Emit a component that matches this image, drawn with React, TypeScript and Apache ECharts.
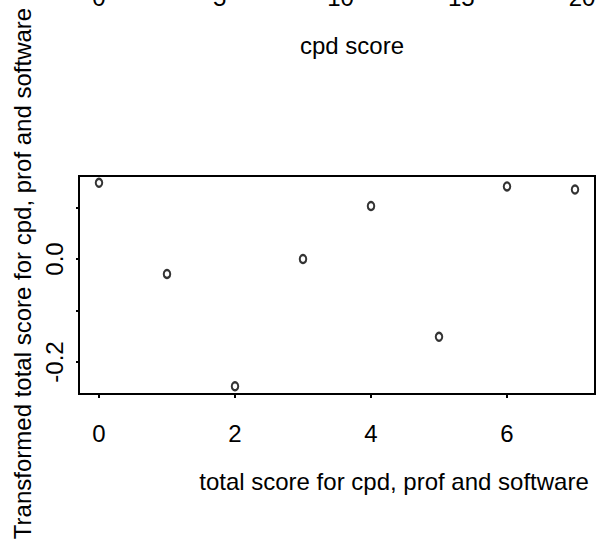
import React, { useEffect, useRef } from "react";
import * as echarts from "echarts";

// Data
const xValues = [0, 1, 2, 3, 4, 5, 6, 7];
const yValues = [0.148, -0.029, -0.247, 0.0, 0.103, -0.151, 0.141, 0.135];
const xTickLabels = [0, 2, 4, 6];
const yTicks = [-0.2, -0.1, 0, 0.1];
const yTickLabels = [-0.2, 0];
const topTickLabels = [0, 5, 10, 15, 20];

const FONT = "'Liberation Sans', Arial, Helvetica, sans-serif";

export default function App() {
  const ref = useRef<HTMLDivElement>(null);
  useEffect(() => {
    document.body.style.margin = "0";
    if (!ref.current) return;
    const chart = echarts.init(ref.current, undefined, { renderer: "svg" });
    const option = {
      animation: false,
      backgroundColor: "#fff",
      textStyle: { fontFamily: FONT },
      grid: [
        {
          left: 79,
          top: 176,
          width: 516,
          height: 218,
          show: true,
          borderColor: "#000",
          borderWidth: 2,
          backgroundColor: "transparent",
          containLabel: false,
          outerBoundsMode: "none",
        },
        {
          left: 79.7,
          top: -240,
          width: 521.6,
          height: 198,
          show: false,
          containLabel: false,
          outerBoundsMode: "none",
        },
      ],
      xAxis: [
        {
          gridIndex: 0,
          type: "value",
          min: -0.294,
          max: 7.294,
          axisLine: { show: false, onZero: false },
          splitLine: { show: false },
          axisTick: {
            customValues: xTickLabels,
            length: 4,
            lineStyle: { color: "#000", width: 2 },
          },
          axisLabel: {
            customValues: xTickLabels,
            fontSize: 24,
            color: "#000",
            margin: 27,
            fontFamily: FONT,
          },
          name: "total score for cpd, prof and software",
          nameLocation: "middle",
          nameGap: 75,
          nameTextStyle: {
            fontSize: 24,
            color: "#000",
            fontFamily: FONT,
            padding: [0, 0, 0, 114],
          },
        },
        {
          gridIndex: 1,
          type: "value",
          min: -0.8,
          max: 20.8,
          axisLine: { show: false, onZero: false },
          splitLine: { show: false },
          axisTick: { show: false },
          axisLabel: {
            customValues: topTickLabels,
            fontSize: 24,
            color: "#000",
            margin: 27,
            fontFamily: FONT,
          },
          name: "cpd score",
          nameLocation: "middle",
          nameGap: 75,
          nameTextStyle: {
            fontSize: 24,
            color: "#000",
            fontFamily: FONT,
            padding: [0, 0, 0, 23],
          },
        },
      ],
      yAxis: [
        {
          gridIndex: 0,
          type: "value",
          min: -0.2621,
          max: 0.1612,
          axisLine: { show: false, onZero: false },
          splitLine: { show: false },
          axisTick: {
            customValues: yTicks,
            length: 3,
            lineStyle: { color: "#000", width: 2 },
          },
          axisLabel: {
            customValues: yTickLabels,
            rotate: 90,
            fontSize: 24,
            color: "#000",
            margin: 13,
            fontFamily: FONT,
            formatter: (v: number) => v.toFixed(1),
          },
          name: "Transformed total score for cpd, prof and software",
          nameLocation: "middle",
          nameRotate: 90,
          nameGap: 42,
          nameTextStyle: {
            fontSize: 24,
            color: "#000",
            fontFamily: FONT,
            padding: [0, 0, 0, 23],
          },
        },
        { gridIndex: 1, type: "value", show: false, min: 0, max: 1 },
      ],
      series: [
        {
          type: "scatter",
          xAxisIndex: 0,
          yAxisIndex: 0,
          data: xValues.map((x, i) => [x, yValues[i]]),
          symbol: "circle",
          symbolSize: [6.5, 8],
          itemStyle: { color: "#fff", borderColor: "#000", borderWidth: 2.2 },
        },
      ],
    };
    chart.setOption(option as any);
    return () => chart.dispose();
  }, []);
  return <div ref={ref} style={{ width: 597, height: 545 }} />;
}
